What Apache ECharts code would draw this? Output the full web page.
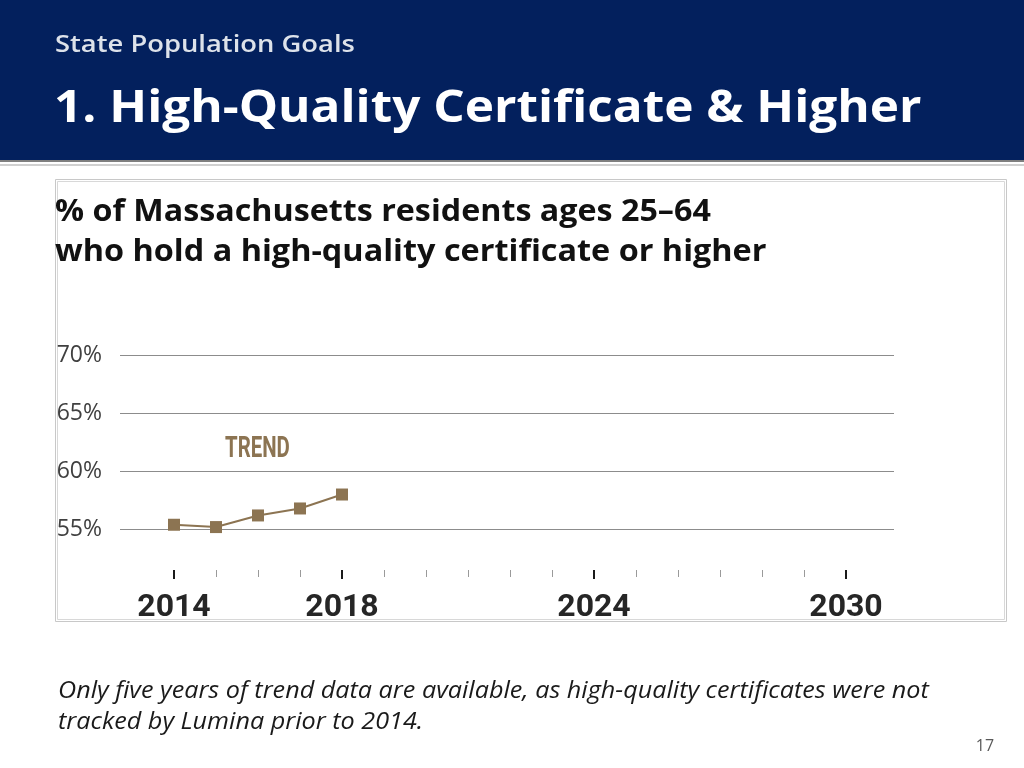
<!DOCTYPE html>
<html><head><meta charset="utf-8">
<script src="https://cdn.jsdelivr.net/npm/echarts@6/dist/echarts.min.js"></script>
<style>html,body{margin:0;padding:0;background:#fff}#c{width:1024px;height:768px}</style>
</head><body><div id="c"></div>
<script>
const trendYears = [2014, 2015, 2016, 2017, 2018];
const trendValues = [55.4, 55.2, 56.2, 56.8, 58.0];
const axisYears = ['2014','2015','2016','2017','2018','2019','2020','2021','2022','2023','2024','2025','2026','2027','2028','2029','2030'];
const labeledYears = ['2014','2018','2024','2030'];
const yTicks = [55, 60, 65, 70];
const headerKicker = 'State Population Goals';
const headerTitle = '1. High-Quality Certificate & Higher';
const subtitleLines = ['% of Massachusetts residents ages 25\u201364', 'who hold a high-quality certificate or higher'];
const footnoteLines = ['Only five years of trend data are available, as high-quality certificates were not', 'tracked by Lumina prior to 2014.'];
const seriesLabel = 'TREND';
const pageNumber = '17';

const BROWN = '#8c7452';
const chart = echarts.init(document.getElementById('c'), null, {renderer:'canvas'});
const isLabeled = (i) => labeledYears.indexOf(axisYears[i]) >= 0;

chart.setOption({
  animation: false,
  backgroundColor: '#ffffff',
  graphic: [
    {type:'rect', shape:{x:0,y:0,width:1024,height:160}, style:{fill:'#03205d'}},
    {type:'rect', shape:{x:0,y:160,width:1024,height:2}, style:{fill:'#7f7f7f'}},
    {type:'rect', shape:{x:0,y:164,width:1024,height:2}, style:{fill:'#d0d0d0'}},
    {type:'rect', shape:{x:55.5,y:179.5,width:951,height:442}, style:{fill:'none', stroke:'#c8c8c8', lineWidth:1}},
    {type:'rect', shape:{x:57.5,y:181.5,width:947,height:438}, style:{fill:'none', stroke:'#d8d8d8', lineWidth:1}},
    {type:'text', x:55, y:45, scaleX:1.14, style:{text:headerKicker, font:'600 24px "Open Sans"', fill:'#dde2ea', textAlign:'left', textVerticalAlign:'middle'}},
    {type:'text', x:54, y:109, scaleX:1.125, style:{text:headerTitle, font:'bold 44px "Open Sans"', fill:'#ffffff', textAlign:'left', textVerticalAlign:'middle'}},
    {type:'text', x:55, y:212, scaleX:1.075, style:{text:subtitleLines[0], font:'bold 30px "Open Sans"', fill:'#111111', textAlign:'left', textVerticalAlign:'middle'}},
    {type:'text', x:55, y:252, scaleX:1.08, style:{text:subtitleLines[1], font:'bold 30px "Open Sans"', fill:'#111111', textAlign:'left', textVerticalAlign:'middle'}},
    {type:'text', x:225, y:449, scaleX:0.68, style:{text:seriesLabel, font:'bold 30px Roboto', fill:BROWN, textAlign:'left', textVerticalAlign:'middle'}},
    {type:'text', x:58, y:691, scaleX:1.095, style:{text:footnoteLines[0], font:'italic 23px "Open Sans"', fill:'#1a1a1a', textAlign:'left', textVerticalAlign:'middle'}},
    {type:'text', x:58, y:722, scaleX:1.095, style:{text:footnoteLines[1], font:'italic 23px "Open Sans"', fill:'#1a1a1a', textAlign:'left', textVerticalAlign:'middle'}},
    {type:'text', x:985, y:746, style:{text:pageNumber, font:'16px "Open Sans"', fill:'#595959', textAlign:'center', textVerticalAlign:'middle'}}
  ],
  grid: [
    {left:120, width:774, top:355, height:174.4, containLabel:false},
    {left:174, width:672, top:560, height:10, containLabel:false}
  ],
  xAxis: [
    {type:'value', gridIndex:0, min:2012.714, max:2031.143, show:false},
    {type:'category', gridIndex:1, data:axisYears, boundaryGap:false, position:'bottom',
      axisLine:{show:false},
      axisTick:{show:true, interval:0, length:7, lineStyle:{color:'#9a9a9a', width:1}},
      axisLabel:{show:false}},
    {type:'category', gridIndex:1, data:axisYears, boundaryGap:false, position:'bottom',
      axisLine:{show:false},
      axisTick:{show:true, interval:(i)=>isLabeled(i), length:9, lineStyle:{color:'#1a1a1a', width:2}},
      axisLabel:{show:true, interval:(i)=>isLabeled(i), margin:22, color:'#262626', fontFamily:'Roboto', fontWeight:'bold', fontSize:32}}
  ],
  yAxis: [
    {type:'value', gridIndex:0, min:yTicks[0], max:yTicks[yTicks.length-1], interval:5,
      axisLine:{show:false}, axisTick:{show:false},
      splitLine:{show:true, lineStyle:{color:'#8c8c8c', width:1}},
      axisLabel:{formatter:'{value}%', margin:18, color:'#404040', fontFamily:'Open Sans', fontSize:23}},
    {type:'value', gridIndex:1, show:false, min:0, max:1}
  ],
  series: [
    {type:'line', xAxisIndex:0, yAxisIndex:0, data: trendYears.map((y,i)=>[y, trendValues[i]]),
      symbol:'rect', symbolSize:12, showSymbol:true,
      lineStyle:{color:BROWN, width:2}, itemStyle:{color:BROWN}}
  ]
});
</script></body></html>
